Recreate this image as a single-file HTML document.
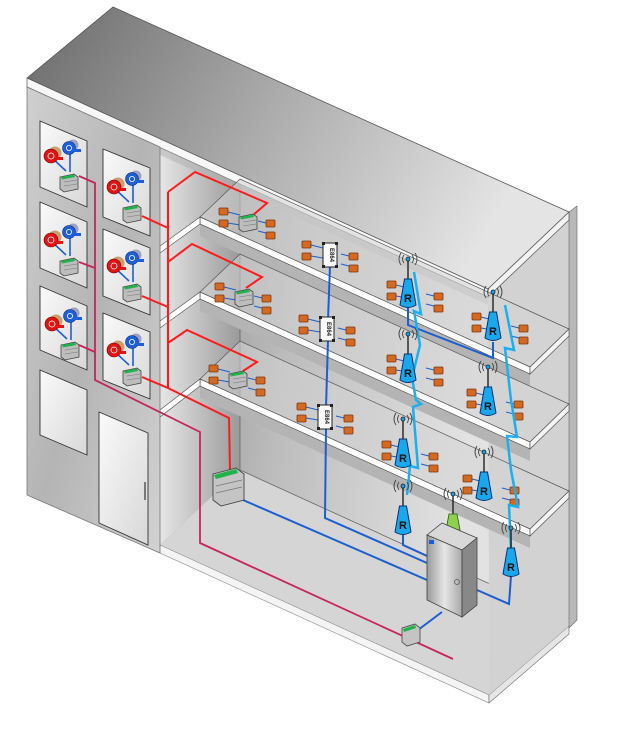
<!DOCTYPE html>
<html><head><meta charset="utf-8"><style>
html,body{margin:0;padding:0;background:#fff;}
svg{display:block;}
text{font-family:"Liberation Sans",sans-serif;}
</style></head><body>
<svg width="620" height="731" viewBox="0 0 620 731" xmlns="http://www.w3.org/2000/svg">
<defs>
<linearGradient id="gTop" x1="0" y1="0" x2="1" y2="0.3"><stop offset="0" stop-color="#6a6a6a"/><stop offset="0.5" stop-color="#aaa"/><stop offset="1" stop-color="#e4e4e4"/></linearGradient>
<linearGradient id="gBack" x1="0" y1="0" x2="1" y2="0.2"><stop offset="0" stop-color="#8a8a8a"/><stop offset="0.45" stop-color="#bdbdbd"/><stop offset="1" stop-color="#e2e2e2"/></linearGradient>
<linearGradient id="gFac" x1="0" y1="0" x2="1" y2="1"><stop offset="0" stop-color="#d0d0d0"/><stop offset="0.5" stop-color="#b4b4b4"/><stop offset="1" stop-color="#d2d2d2"/></linearGradient>
<linearGradient id="gLeftIn" x1="0" y1="0" x2="1" y2="0"><stop offset="0" stop-color="#e6e6e6"/><stop offset="1" stop-color="#9a9a9a"/></linearGradient>
<linearGradient id="gPanel" x1="0" y1="0" x2="1" y2="1"><stop offset="0" stop-color="#fafafa"/><stop offset="1" stop-color="#d8d8d8"/></linearGradient>
<linearGradient id="gCab" x1="0" y1="0" x2="1" y2="0"><stop offset="0" stop-color="#9a9a9a"/><stop offset="0.5" stop-color="#e6e6e6"/><stop offset="1" stop-color="#a8a8a8"/></linearGradient>
<g id="orng"><rect x="0" y="0" width="9" height="7" rx="1" fill="#d46a22" stroke="#7a3510" stroke-width="0.8"/></g>
<g id="box"><path d="M0,3 L14,0 L18,3 L18,15 L4,18 L0,15 Z" fill="#bdbdbd" stroke="#444" stroke-width="0.8"/><path d="M1,3 L14,0.5 L15,3 L2,5.5 Z" fill="#1fb34a"/><path d="M4,8 L17,6 M4,12 L17,10" stroke="#777" stroke-width="0.6"/></g>
<g id="meters">
 <path d="M10,34 L26,49 M30,26 L30,50" stroke="#1a5fd0" stroke-width="1.6" fill="none"/>
 <circle cx="15" cy="31" r="6.5" fill="#c8a070"/>
 <circle cx="11" cy="34" r="7" fill="#e01212" stroke="#700" stroke-width="0.6"/>
 <circle cx="11" cy="34" r="3" fill="none" stroke="#fff" stroke-width="0.8"/>
 <rect x="16" y="35" width="7" height="3" fill="#e01212"/>
 <circle cx="33" cy="23" r="5.5" fill="#a0a0c0"/>
 <circle cx="29" cy="26" r="6.5" fill="#1e5fd8" stroke="#0a2a70" stroke-width="0.6"/>
 <circle cx="29" cy="26" r="2.6" fill="none" stroke="#fff" stroke-width="0.8"/>
 <rect x="34" y="27" width="7" height="3" fill="#1e5fd8"/>
 <use href="#box" x="20" y="52"/>
</g>
<g id="module"><rect x="0" y="0" width="14" height="24" rx="1" fill="#fafafa" stroke="#222" stroke-width="1"/><rect x="-1" y="-1" width="3" height="3" fill="#222"/><rect x="12" y="-1" width="3" height="3" fill="#222"/><rect x="-1" y="22" width="3" height="3" fill="#222"/><rect x="12" y="22" width="3" height="3" fill="#222"/></g>
<g id="quad"><path d="M-12,-3 L0,0 M-12,8 L0,10 M18,6 L30,9 M18,16 L30,19" stroke="#1a5fd0" stroke-width="1"/><use href="#orng" x="-21" y="-7"/><use href="#orng" x="-21" y="5"/><use href="#orng" x="26" y="5"/><use href="#orng" x="26" y="17"/></g>
<g id="ant"><line x1="0" y1="-38" x2="0" y2="-18" stroke="#222" stroke-width="1.4"/><circle cx="0" cy="-38" r="2" fill="#1aa0e8" stroke="#222" stroke-width="0.8"/>
 <path d="M-4,-42 Q-7,-38 -4,-34 M4,-42 Q7,-38 4,-34 M-7,-44 Q-11,-38 -7,-32 M7,-44 Q11,-38 7,-32" stroke="#444" stroke-width="0.9" fill="none"/></g>
<g id="cone"><path d="M-3.5,-18 L3.5,-18 L8,8 Q0,13 -8,8 Z" fill="#1aa8ec" stroke="#0a3070" stroke-width="1"/></g>
</defs>

<polygon points="113,7 569,212 488,289 27,78" fill="url(#gTop)" stroke="#555" stroke-width="0.8"/>
<polygon points="160,146 488,296 489,695 160,545" fill="url(#gBack)"/>
<polygon points="160,146 240,182 240,470 160,545" fill="url(#gLeftIn)"/>
<line x1="240" y1="182" x2="240" y2="470" stroke="#666" stroke-width="0.8"/>
<polygon points="160,545 240,470 569,620 489,695" fill="#d5d5d5"/>
<line x1="240" y1="470" x2="569" y2="620" stroke="#666" stroke-width="0.8"/>
<polygon points="160,545 489,695 489,703 160,553" fill="#f4f4f4" stroke="#888" stroke-width="0.6"/>
<polygon points="489,695 569,626 569,634 489,703" fill="#e6e6e6" stroke="#666" stroke-width="0.6"/>
<polygon points="488,296 569,220 569,626 489,695" fill="#d2d2d2"/>
<polygon points="569,212 577,206 577,620 569,628" fill="#b8b8b8" stroke="#666" stroke-width="0.6"/>
<polygon points="27,78 488,289 488,297 27,87" fill="#f7f7f7" stroke="#555" stroke-width="0.7"/>
<polygon points="488,289 569,212 569,220 488,297" fill="#f2f2f2" stroke="#555" stroke-width="0.7"/>
<polygon points="160,147 488,297 488,305 160,155" fill="#b0b0b0" opacity="0.5"/>

<g stroke="#555" stroke-width="0.7">
<polygon points="240,179 569,329 530,367 200,217" fill="#d4d4d4" fill-opacity="0.55"/>
<polygon points="200,224 530,374 530,386 200,236" fill="#b4b4b4" stroke="none"/>
<polygon points="200,217 530,367 530,374 200,224" fill="#fff"/>
<polygon points="530,367 569,329 569,336 530,374" fill="#f4f4f4"/>
<polygon points="200,217 160,246 160,253 200,224" fill="#fff"/>

<polygon points="240,254 569,404 530,442 200,292" fill="#d4d4d4" fill-opacity="0.55"/>
<polygon points="200,299 530,449 530,461 200,311" fill="#b4b4b4" stroke="none"/>
<polygon points="200,292 530,442 530,449 200,299" fill="#fff"/>
<polygon points="530,442 569,404 569,411 530,449" fill="#f4f4f4"/>
<polygon points="200,292 160,321 160,328 200,299" fill="#fff"/>

<polygon points="240,341 569,491 530,529 200,379" fill="#d4d4d4" fill-opacity="0.55"/>
<polygon points="200,386 530,536 530,548 200,398" fill="#b4b4b4" stroke="none"/>
<polygon points="200,379 530,529 530,536 200,386" fill="#fff"/>
<polygon points="530,529 569,491 569,498 530,536" fill="#f4f4f4"/>
<polygon points="200,379 160,410 160,417 200,386" fill="#fff"/>
</g>

<polygon points="27,87 160,147 160,553 27,495" fill="url(#gFac)" stroke="#777" stroke-width="0.8"/>
<g fill="url(#gPanel)" stroke="#333" stroke-width="0.9">
<polygon points="40,121 87,141 87,207 40,187"/>
<polygon points="40,202 87,222 87,288 40,268"/>
<polygon points="40,286 87,306 87,370 40,350"/>
<polygon points="40,370 87,390 87,455 40,435"/>
<polygon points="103,149 150,168 150,236 103,217"/>
<polygon points="103,229 150,248 150,315 103,296"/>
<polygon points="103,313 150,332 150,399 103,380"/>
<polygon points="99,412 148,433 148,545 99,523"/>
</g>
<line x1="145" y1="482" x2="145" y2="500" stroke="#555" stroke-width="1.5"/>
<use href="#meters" x="40" y="122"/>
<use href="#meters" x="40" y="206"/>
<use href="#meters" x="41" y="290"/>
<use href="#meters" x="103" y="153"/>
<use href="#meters" x="103" y="232"/>
<use href="#meters" x="103" y="316"/>

<polyline points="79,176 95,183 95,380 200,432 200,543 453,659" fill="none" stroke="#c8245a" stroke-width="1.8"/>
<polyline points="79,262 95,268" fill="none" stroke="#c8245a" stroke-width="1.8"/>
<polyline points="79,345 95,352" fill="none" stroke="#c8245a" stroke-width="1.8"/>

<g fill="none" stroke="#ff1a1a" stroke-width="2">
<polyline points="142,216 168,228"/>
<polyline points="142,296 168,307"/>
<polyline points="142,377 168,388 229,418 230,470"/>
<polyline points="168,192 168,388"/>
<polyline points="168,192 195,172 267,203 252,216"/>
<polyline points="168,262 192,244 262,277 246,288"/>
<polyline points="168,343 187,330 257,362 243,371"/>
</g>

<g fill="none" stroke="#1a5fd0" stroke-width="2">
<polyline points="330,266 328,320"/>
<polyline points="328,340 326,408"/>
<polyline points="326,428 325,518 427,563"/>
<polyline points="243,500 427,580"/>
<polyline points="403,535 403,545 427,556"/>
<polyline points="511,576 509,604 477,590"/>
<polyline points="408,308 408,325 493,358 493,342"/>
<polyline points="442,612 418,630"/>
</g>

<use href="#quad" x="240" y="215"/><use href="#box" x="239" y="214"/>
<use href="#quad" x="236" y="290"/><use href="#box" x="235" y="289"/>
<use href="#quad" x="230" y="372"/><use href="#box" x="229" y="371"/>
<use href="#quad" x="323" y="248"/><use href="#module" x="323" y="243"/>
<use href="#quad" x="320" y="322"/><use href="#module" x="320" y="317"/>
<use href="#quad" x="318" y="410"/><use href="#module" x="318" y="405"/>
<g font-size="6" fill="#222" font-weight="bold">
<text x="330" y="255" transform="rotate(90 330 255)" text-anchor="middle">E864</text>
<text x="327" y="329" transform="rotate(90 327 329)" text-anchor="middle">E864</text>
<text x="325" y="417" transform="rotate(90 325 417)" text-anchor="middle">E864</text>
</g>

<path d="M213,474 L236,468 L244,474 L244,500 L221,506 L213,500 Z" fill="#c4c4c4" stroke="#444" stroke-width="0.9"/>
<path d="M214,475 L236,469 L238,473 L216,479 Z" fill="#1fb34a"/>
<path d="M216,486 L242,480 M216,493 L242,487" stroke="#777" stroke-width="0.7"/>

<use href="#quad" x="408" y="288"/>
<use href="#quad" x="493" y="320"/>
<use href="#quad" x="408" y="362"/>
<use href="#quad" x="488" y="396"/>
<use href="#quad" x="403" y="448"/>
<use href="#quad" x="484" y="482"/>

<g fill="none" stroke="#1ab0f0" stroke-width="2.5" stroke-linejoin="miter">
<polyline points="414,272 421,314 414,311 420,345 412,378 416,400 421,404 413,407 418,468 410,466 407,495"/>
<polyline points="505,305 514,350 505,348 511,400 517,437 507,436 511,470 518,507 509,505 511,550"/>
</g>

<g>
<use href="#ant" x="408" y="297"/><use href="#cone" x="408" y="297"/>
<use href="#ant" x="493" y="330"/><use href="#cone" x="493" y="330"/>
<use href="#ant" x="408" y="372"/><use href="#cone" x="408" y="372"/>
<use href="#ant" x="488" y="405"/><use href="#cone" x="488" y="405"/>
<use href="#ant" x="403" y="457"/><use href="#cone" x="403" y="457"/>
<use href="#ant" x="484" y="490"/><use href="#cone" x="484" y="490"/>
<use href="#ant" x="403" y="524"/><use href="#cone" x="403" y="524"/>
<use href="#ant" x="511" y="566"/><use href="#cone" x="511" y="566"/>
</g>
<g font-size="11" font-weight="bold" fill="#111" text-anchor="middle">
<text x="408" y="302">R</text><text x="493" y="335">R</text>
<text x="408" y="377">R</text><text x="488" y="410">R</text>
<text x="403" y="462">R</text><text x="484" y="495">R</text>
<text x="403" y="529">R</text><text x="511" y="571">R</text>
</g>
<use href="#ant" x="453" y="532"/>
<path d="M449,514 L457,514 L460,530 L446,530 Z" fill="#8fd14f" stroke="#2a5a10" stroke-width="0.8"/>

<polygon points="427,535 442,523 477,538 462,550" fill="#d8d8d8" stroke="#444" stroke-width="0.8"/>
<polygon points="427,535 462,550 462,617 427,600" fill="url(#gCab)" stroke="#444" stroke-width="0.8"/>
<polygon points="462,550 477,538 477,605 462,617" fill="#888" stroke="#444" stroke-width="0.8"/>
<rect x="429" y="540" width="5" height="4" fill="#1a5fd0"/>
<circle cx="457" cy="582" r="2.5" fill="none" stroke="#555" stroke-width="0.8"/>

<path d="M402,628 L415,624 L420,628 L420,642 L407,646 L402,642 Z" fill="#c4c4c4" stroke="#444" stroke-width="0.8"/>
<path d="M403,629 L415,625 L416,628 L404,632 Z" fill="#1fb34a"/>
</svg>
</body></html>
